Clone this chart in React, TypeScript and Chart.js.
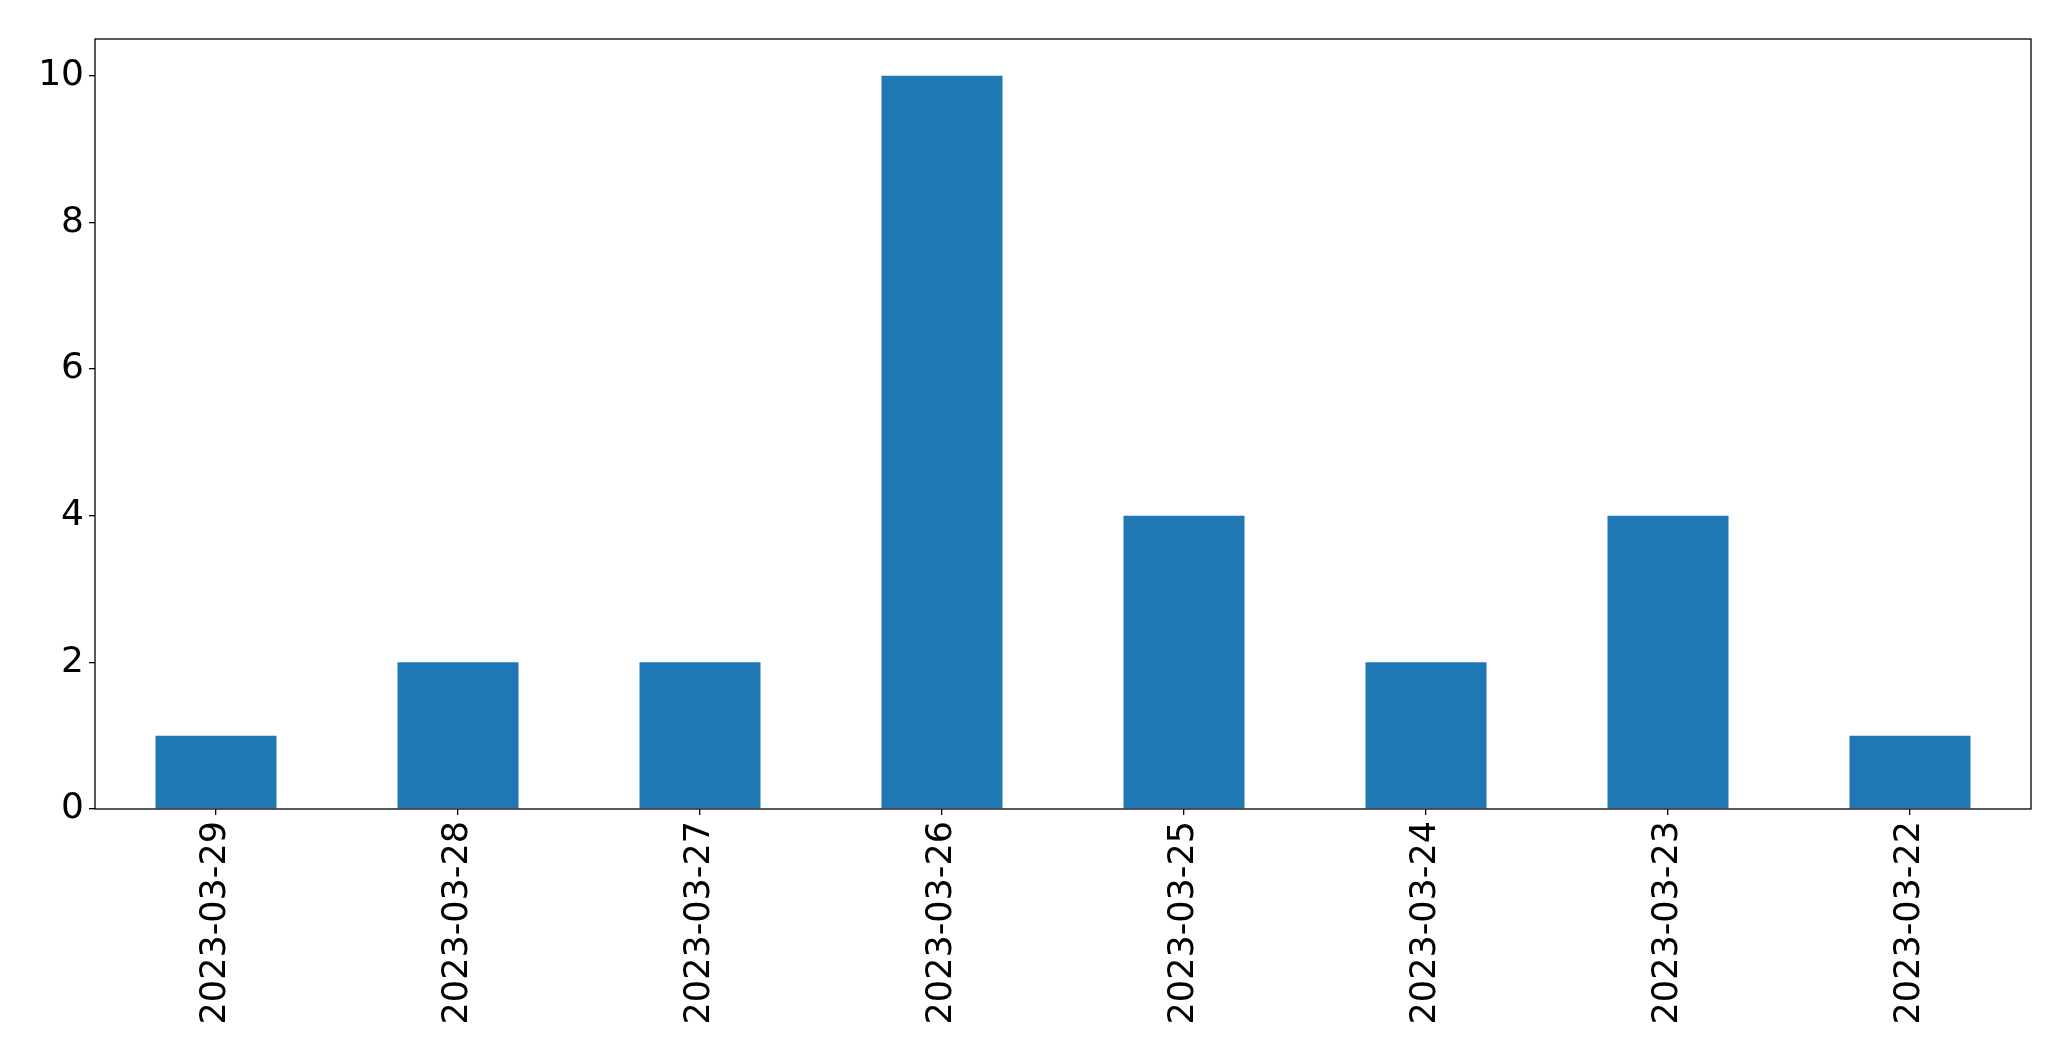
import React, { useEffect, useRef } from "react";
import { Chart, registerables } from "chart.js";

Chart.register(...registerables);

const categories: string[] = [
  "2023-03-29",
  "2023-03-28",
  "2023-03-27",
  "2023-03-26",
  "2023-03-25",
  "2023-03-24",
  "2023-03-23",
  "2023-03-22",
];
const counts: number[] = [1, 2, 2, 10, 4, 2, 4, 1];
const yTicks: number[] = [0, 2, 4, 6, 8, 10];

const W = 2071;
const H = 1061;

const framePlugin = {
  id: "frame",
  afterDraw(chart: any) {
    const { ctx, chartArea } = chart;
    ctx.save();
    ctx.strokeStyle = "#000000";
    ctx.lineWidth = 1.3;
    ctx.strokeRect(
      chartArea.left,
      chartArea.top,
      chartArea.right - chartArea.left,
      chartArea.bottom - chartArea.top
    );
    ctx.restore();
  },
};

export default function App() {
  const ref = useRef<HTMLCanvasElement | null>(null);

  useEffect(() => {
    if (!ref.current) return;
    const family = "'DejaVu Sans', sans-serif";
    const chart = new Chart(ref.current, {
      type: "bar",
      data: {
        labels: categories,
        datasets: [
          {
            data: counts,
            backgroundColor: "#1f77b4",
            borderWidth: 0,
            categoryPercentage: 1,
            barPercentage: 0.5,
          },
        ],
      },
      options: {
        responsive: false,
        animation: false,
        devicePixelRatio: 1,
        layout: { padding: { top: 39, right: 40, left: 0, bottom: 0 } },
        plugins: {
          legend: { display: false },
          tooltip: { enabled: false },
          title: { display: false },
        },
        scales: {
          x: {
            offset: true,
            grid: {
              offset: false,
              display: true,
              drawOnChartArea: false,
              drawTicks: true,
              tickLength: 6,
              color: "#000000",
              lineWidth: 1.3,
            },
            border: { display: false },
            ticks: {
              color: "#000000",
              font: { family, size: 35 },
              minRotation: 90,
              maxRotation: 90,
              autoSkip: false,
              padding: 6,
            },
            afterFit(scale: any) {
              scale.height = 252;
            },
          },
          y: {
            min: 0,
            max: 10.5,
            grid: {
              display: true,
              drawOnChartArea: false,
              drawTicks: true,
              tickLength: 6,
              color: "#000000",
              lineWidth: 1.3,
            },
            border: { display: false },
            ticks: {
              color: "#000000",
              font: { family, size: 36 },
              stepSize: 2,
              includeBounds: false,
              padding: 5,
            },
            afterBuildTicks(scale: any) {
              scale.ticks = yTicks.map((v) => ({ value: v }));
            },
            afterFit(scale: any) {
              scale.width = 95;
            },
          },
        },
      },
      plugins: [framePlugin],
    });
    return () => chart.destroy();
  }, []);

  return (
    <div style={{ position: "absolute", left: 0, top: 0, width: W, height: H, background: "#ffffff" }}>
      <canvas ref={ref} width={W} height={H} style={{ display: "block", width: W, height: H }} />
    </div>
  );
}
